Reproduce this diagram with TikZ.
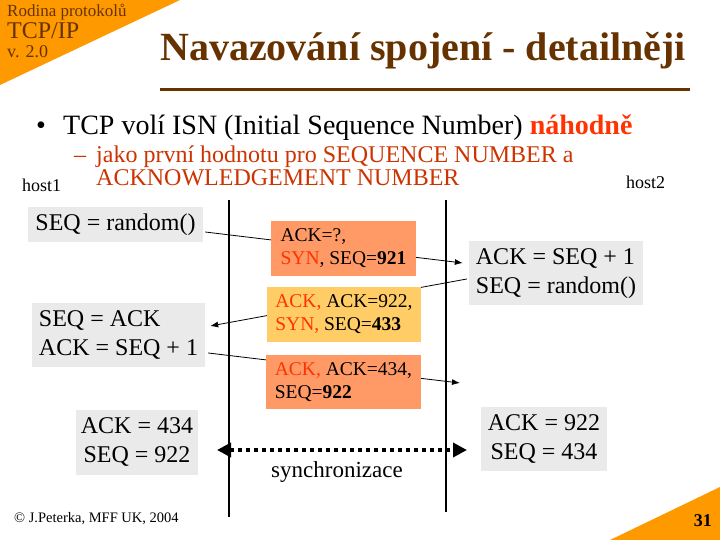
\documentclass[tikz,border=0pt]{standalone}
\usepackage{fontspec}
\setmainfont{Liberation Serif}
\usetikzlibrary{arrows.meta,calc}
\definecolor{brownT}{HTML}{663300}
\definecolor{triOr}{HTML}{FF9900}
\definecolor{boxOr}{HTML}{FF9966}
\definecolor{boxYe}{HTML}{FFCC66}
\definecolor{boxGr}{HTML}{EAEAEA}
\definecolor{redT}{HTML}{FF3300}
\definecolor{redSub}{HTML}{CC3300}
\pgfdeclarelayer{bg}
\pgfsetlayers{bg,main}
\newcommand{\fs}[2]{\fontsize{#1}{#2}\selectfont}
\newcommand{\LLines}[1]{\begin{tabular}{@{}l@{}}#1\end{tabular}}
\newcommand{\CLines}[1]{\begin{tabular}{@{}c@{}}#1\end{tabular}}
\begin{document}
\begin{tikzpicture}[x=1pt,y=-1pt,
  graybox/.style={fill=boxGr, inner sep=0pt, font=\fs{24}{29}},
  msgbox/.style={inner sep=0pt, font=\fs{19.5}{23}},
  thinarrow/.style={line width=0.8pt, -{Latex[length=8pt,width=6pt]}},
  lifeline/.style={line width=1.1pt},
  hostlabel/.style={font=\fs{18}{20}, inner sep=0pt}
]
\useasboundingbox (0,0) rectangle (720,540);
% corner triangles
\fill[triOr] (0,0) -- (180,0) -- (0,85) -- cycle;
\fill[triOr] (720,487) -- (720,540) -- (610,540) -- cycle;
% header texts
\node[anchor=base west, inner sep=0pt, text=brownT, font=\fs{17}{19}] (rodina) at (7,17) {Rodina protokolů};
\node[anchor=base west, inner sep=0pt, text=brownT, font=\fs{24}{26}] (tcpip) at (7,39) {TCP/IP};
\node[anchor=base west, inner sep=0pt, text=brownT, font=\fs{18}{19}] (ver) at (7,58) {v. 2.0};
\node[anchor=base, inner sep=0pt, text=brownT, font=\fs{40}{44}\bfseries] (title) at (423,61) {Navazování spojení - detailněji};
\draw[brownT, line width=3pt] (160,90) -- (690,90);
% bullets
\node[anchor=base west, inner sep=0pt, font=\fs{28}{32}] (bul) at (36,135) {•};
\node[anchor=base west, inner sep=0pt, font=\fs{28}{32}] (bultext) at (63,135) {TCP volí ISN (Initial Sequence Number) \textcolor{redT}{\textbf{náhodně}}};
\node[anchor=base west, inner sep=0pt, text=redSub, font=\fs{24}{27}] (dash) at (74,163) {–};
\node[anchor=base west, inner sep=0pt, text=redSub, font=\fs{24}{27}] (subA) at (96,163) {jako první hodnotu pro SEQUENCE NUMBER a};
\node[anchor=base west, inner sep=0pt, text=redSub, font=\fs{24}{27}] (subB) at (96,186) {ACKNOWLEDGEMENT NUMBER};
% host labels
\node[hostlabel, anchor=base west] (host1) at (22,192) {host1};
\node[hostlabel, anchor=base west] (host2) at (626,189) {host2};
% lifelines
\coordinate (v1t) at (229,200); \coordinate (v1b) at (229,517);
\coordinate (v2t) at (446,200); \coordinate (v2b) at (446,512);
\draw[lifeline] (v1t) -- (v1b);
\draw[lifeline] (v2t) -- (v2b);
% host state boxes
\node[graybox, minimum width=175pt, minimum height=35pt] (h1a) at (115.5,224.5) {SEQ = random()};
\node[graybox, minimum width=174pt, minimum height=64pt] (h2a) at (556,273) {\LLines{ACK = SEQ + 1\\SEQ = random()}};
\node[graybox, minimum width=173pt, minimum height=64pt] (h1b) at (118.5,335) {\LLines{SEQ = ACK\\ACK = SEQ + 1}};
\node[graybox, minimum width=122pt, minimum height=65pt] (h1c) at (137,442.5) {\CLines{ACK = 434\\SEQ = 922}};
\node[graybox, minimum width=126pt, minimum height=64pt] (h2c) at (544,439) {\CLines{ACK = 922\\SEQ = 434}};
% message boxes
\node[msgbox, fill=boxOr, minimum width=145pt, minimum height=55pt] (m1) at (343.5,248.5) {\LLines{ACK=?,\\\textcolor{redT}{SYN}, SEQ=\textbf{921}}};
\node[msgbox, fill=boxYe, minimum width=154pt, minimum height=55pt] (m2) at (344,314.5) {\LLines{\textcolor{redT}{ACK,} ACK=922,\\\textcolor{redT}{SYN,} SEQ=\textbf{433}}};
\node[msgbox, fill=boxOr, minimum width=155pt, minimum height=54pt] (m3) at (343.5,382) {\LLines{\textcolor{redT}{ACK,} ACK=434,\\SEQ=\textbf{922}}};
% message arrows (behind boxes)
\coordinate (a3end) at (460,383);
\begin{pgfonlayer}{bg}
\draw[thinarrow] ($(h1a.east)+(2,7.5)$) -- ($(h2a.west)+(-6,-10)$);
\draw[thinarrow] ($(h2a.west)+(-2,6)$) -- ($(h1b.east)+(5,-9)$);
\draw[thinarrow] ($(h1b.east)+(3,18)$) -- (a3end);
\end{pgfonlayer}
% synchronisation arrow
\coordinate (syncL) at (217,450);
\coordinate (syncR) at (467,450);
\draw[line width=4pt, dash pattern=on 4pt off 4pt,
  {Triangle[length=14pt 0,width=14pt 0]}-{Triangle[length=14pt 0,width=14pt 0]}] (syncL) -- (syncR);
\node[anchor=base, inner sep=0pt, font=\fs{23}{26}] (sync) at (337,477) {synchronizace};
% footer
\node[anchor=base west, inner sep=0pt, font=\fs{14.5}{16}] (foot) at (14,522) {© J.Peterka, MFF UK, 2004};
\node[anchor=base east, inner sep=0pt, font=\fs{18}{20}\bfseries] (page) at (712,526) {31};
\end{tikzpicture}
\end{document}
